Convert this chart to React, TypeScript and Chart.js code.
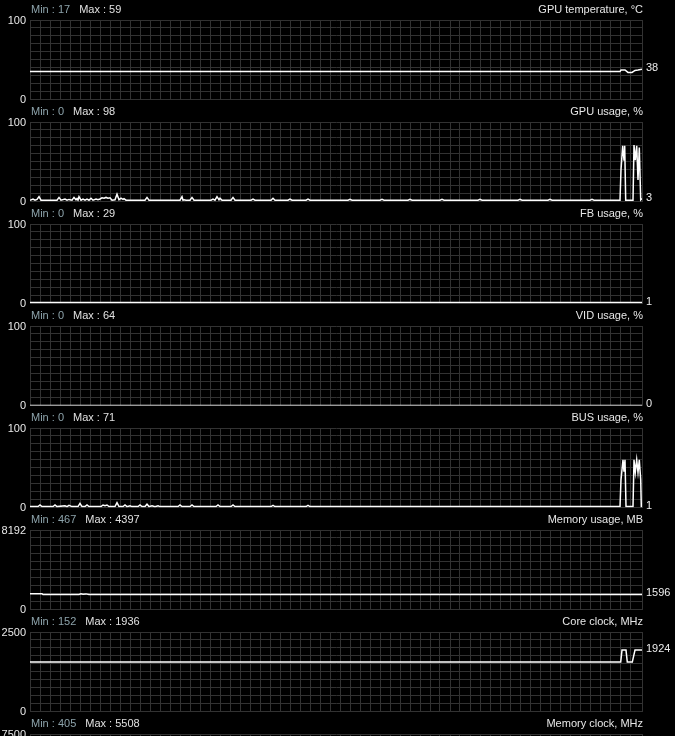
import React, { useEffect, useRef } from "react";
import { Chart, registerables } from "chart.js";

Chart.register(...registerables);

// ---- panel metadata ----
const titles = [
  "GPU temperature, °C",
  "GPU usage, %",
  "FB usage, %",
  "VID usage, %",
  "BUS usage, %",
  "Memory usage, MB",
  "Core clock, MHz",
  "Memory clock, MHz",
];
const minValues = [17, 0, 0, 0, 0, 467, 152, 405];
const maxValues = [59, 98, 29, 64, 71, 4397, 1936, 5508];
const scaleMax = [100, 100, 100, 100, 100, 8192, 2500, 7500];
const currentValues: (number | null)[] = [38, 3, 1, 0, 1, 1596, 1924, null];

// ---- series (x = sample position, y = value) ----
const tempX = [0, 590, 591, 595, 598, 602, 605, 608, 612];
const tempY = [35, 35, 37, 37, 34, 34, 36.5, 37, 38];

const gpuX = [0, 3, 5, 7, 9, 11, 27, 29, 31, 35, 37, 39, 42, 44, 46, 47, 48, 49, 51, 53, 55, 57, 59, 61, 63, 66, 68, 70, 72, 74, 76, 78, 80, 82, 85, 87, 89, 91, 93, 94, 96, 115, 117, 119, 150, 152, 153, 154, 156, 160, 162, 164, 181, 183, 185, 187, 189, 190, 192, 201, 203, 205, 221, 223, 225, 241, 243, 245, 258, 260, 262, 276, 278, 280, 318, 320, 322, 350, 352, 354, 378, 380, 382, 410, 412, 414, 448, 450, 452, 488, 490, 492, 518, 520, 522, 560, 562, 564, 590, 591, 592.7, 594, 594.7, 595.7, 603, 604, 605.3, 606.7, 608, 609.3, 610.7, 611.3, 612];
const gpuY = [1.5, 3, 1.5, 2.5, 6, 1.5, 1.5, 5, 1.5, 3, 1.5, 2.5, 1.5, 5, 2, 3.5, 1.5, 6, 1.5, 3, 1.5, 3, 1.5, 4, 1.5, 3, 2, 3, 4.5, 4, 5, 4, 4.5, 1.5, 2, 9, 2, 4, 2.5, 3.5, 1.5, 1.5, 5, 1.5, 1.5, 6, 1.5, 2, 1.5, 1.5, 5, 1.5, 1.5, 3, 1.5, 6, 2, 4, 1.5, 1.5, 5, 1.5, 1.5, 3, 1.5, 1.5, 4, 1.5, 1.5, 3, 1.5, 1.5, 3, 1.5, 1.5, 2.5, 1.5, 1.5, 2.5, 1.5, 1.5, 2.5, 1.5, 1.5, 2.5, 1.5, 1.5, 2.5, 1.5, 1.5, 2.5, 1.5, 1.5, 2.5, 1.5, 1.5, 2.5, 1.5, 1.5, 40, 70, 52, 70, 1.5, 1.5, 71, 52, 70, 27, 68, 2, 3, 3];

const fbX = [0, 612];
const fbY = [1, 1];

const vidX = [0, 612];
const vidY = [0, 0];

const busX = [0, 8, 10, 12, 23, 25, 27, 35, 37, 39, 42, 48, 50, 52, 55, 57, 59, 71, 73, 75, 77, 79, 85, 87, 89, 93, 95, 97, 100, 102, 108, 110, 112, 115, 117, 119, 122, 125, 128, 130, 148, 150, 152, 160, 162, 164, 186, 188, 190, 201, 203, 205, 241, 243, 245, 276, 278, 280, 590, 591, 593, 594, 595, 596, 603, 604, 605.3, 606.7, 608, 609.3, 610.7, 611.3, 612];
const busY = [1, 1, 3, 1, 1, 3, 1, 2, 1, 2.5, 1, 1, 5, 1, 1, 3, 1, 1, 3, 2, 3, 1, 1, 6, 1, 1, 3, 1, 2, 1, 1, 3, 1, 1, 4, 1, 2, 1, 2, 1, 1, 3, 1, 1, 3, 1, 1, 3, 1, 1, 3, 1, 1, 2.5, 1, 1, 2.5, 1, 1, 35, 60, 45, 60, 1, 1, 60, 44, 60, 44, 60, 35, 1, 1];

const memX = [0, 12, 13, 49, 51, 53, 56, 59, 612];
const memY = [1620, 1620, 1530, 1530, 1610, 1560, 1600, 1530, 1530];

const coreX = [0, 590.7, 592, 596, 597.3, 602.3, 605, 612];
const coreY = [1553, 1553, 1930, 1930, 1553, 1553, 1930, 1930];

const memClkX: number[] = [];
const memClkY: number[] = [];

const seriesX = [tempX, gpuX, fbX, vidX, busX, memX, coreX, memClkX];
const seriesY = [tempY, gpuY, fbY, vidY, busY, memY, coreY, memClkY];

const SAMPLES = 612;
const PANEL_STEP = 102;
const CANVAS_H = 110;
const FONT = "11px 'Liberation Sans', Arial, sans-serif";
const GRID = "#323232";

function Panel({ idx }: { idx: number }) {
  const ref = useRef<HTMLCanvasElement>(null);
  useEffect(() => {
    const canvas = ref.current;
    if (!canvas) return;
    const max = scaleMax[idx];
    const data = seriesX[idx].map((x, i) => ({ x, y: seriesY[idx][i] }));
    const headerPlugin = {
      id: "header" + idx,
      afterDraw(chart: any) {
        const ctx = chart.ctx as CanvasRenderingContext2D;
        const { left, right } = chart.chartArea;
        ctx.save();
        ctx.font = FONT;
        ctx.textBaseline = "middle";
        ctx.textAlign = "left";
        const minText = `Min : ${minValues[idx]}`;
        ctx.fillStyle = "#8da3ab";
        ctx.fillText(minText, left + 1, 9.5);
        const w = ctx.measureText(minText).width;
        ctx.fillStyle = "#e0e0e0";
        ctx.fillText(`Max : ${maxValues[idx]}`, left + 1 + w + 9, 9.5);
        ctx.textAlign = "right";
        ctx.fillStyle = "#e6e6e6";
        ctx.fillText(titles[idx], right + 1, 9.5);
        const cur = currentValues[idx];
        if (cur !== null) {
          const y = chart.scales.y.getPixelForValue(cur);
          ctx.textAlign = "left";
          ctx.fillStyle = "#ececec";
          ctx.fillText(String(cur), right + 4, y - 1);
        }
        ctx.restore();
      },
    };
    const chart = new Chart(canvas, {
      type: "line",
      data: {
        datasets: [
          {
            data,
            borderColor: "#ffffff",
            borderWidth: 1.5,
            pointRadius: 0,
            tension: 0,
            fill: false,
          },
        ],
      },
      options: {
        animation: false,
        responsive: false,
        devicePixelRatio: 1,
        events: [],
        layout: { padding: { left: 0, right: 33, top: 20, bottom: CANVAS_H - 100 } },
        plugins: { legend: { display: false }, tooltip: { enabled: false }, title: { display: false } },
        scales: {
          x: {
            type: "linear",
            min: 0,
            max: SAMPLES,
            ticks: { display: false, stepSize: 10 },
            grid: { color: GRID, drawTicks: false, lineWidth: 1 },
            border: { display: true, color: GRID },
            afterFit: (s: any) => {
              s.height = 0;
            },
          },
          y: {
            type: "linear",
            min: 0,
            max,
            ticks: {
              stepSize: max / 10,
              autoSkip: false,
              color: "#e8e8e8",
              font: { family: "'Liberation Sans', Arial, sans-serif", size: 11 },
              padding: 4,
              labelOffset: 1,
              callback: (v: any) => {
                const n = Number(v);
                if (Math.abs(n) < 1e-6) return "0";
                if (Math.abs(n - max) < 1e-6 * max) return String(max);
                return "";
              },
            },
            grid: { color: GRID, drawTicks: false, lineWidth: 1 },
            border: { display: true, color: GRID },
            afterFit: (s: any) => {
              s.width = 30;
            },
          },
        },
      },
      plugins: [headerPlugin],
    } as any);
    return () => chart.destroy();
  }, [idx]);
  return (
    <canvas
      ref={ref}
      width={675}
      height={CANVAS_H}
      style={{ position: "absolute", left: 0, top: idx * PANEL_STEP, width: 675, height: CANVAS_H }}
    />
  );
}

export default function App() {
  return (
    <div
      style={{
        position: "fixed",
        left: 0,
        top: 0,
        width: 675,
        height: 736,
        background: "#000",
        overflow: "hidden",
      }}
    >
      {titles.map((_, i) => (
        <Panel key={i} idx={i} />
      ))}
    </div>
  );
}
